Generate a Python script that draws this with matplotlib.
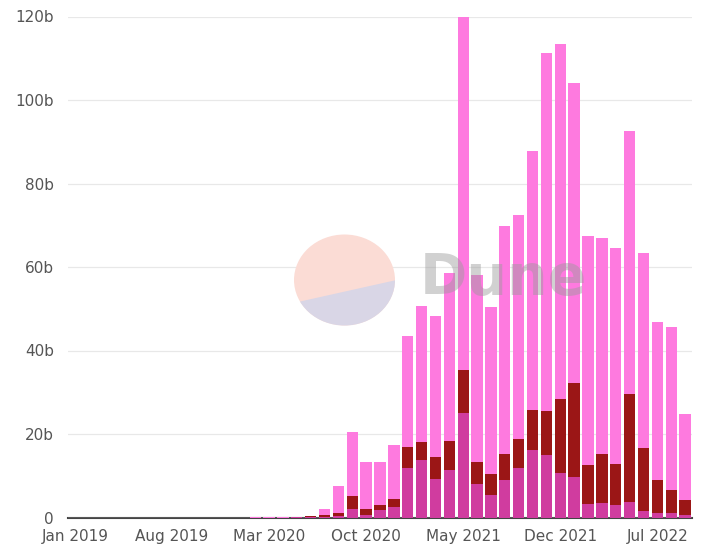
import numpy as np
import matplotlib
matplotlib.use("Agg")
import matplotlib.pyplot as plt
import pandas as pd
from matplotlib.patches import Ellipse, Polygon
from matplotlib.ticker import FuncFormatter

# mois de Jan 2019 a Sep 2022
months = pd.date_range("2019-01-01", "2022-09-01", freq="MS")

# valeurs par couche (en milliards)
bottom_vals = [0, 0, 0, 0, 0, 0, 0, 0, 0, 0, 0, 0,
               0, 0, 0, 0, 0.05, 0.1, 0.1, 0.3, 2.0, 0.6, 1.7, 2.6,
               11.9, 13.8, 9.2, 11.4, 25.0, 8.1, 5.3, 9.1, 11.9, 16.1, 14.9, 10.6,
               9.7, 3.3, 3.4, 3.1, 3.7, 1.5, 1.1, 1.0, 0.5]
middle_vals = [0, 0, 0, 0, 0, 0, 0, 0, 0, 0, 0, 0,
               0, 0, 0, 0, 0.05, 0.2, 0.5, 0.7, 3.1, 1.4, 1.4, 1.9,
               5.1, 4.3, 5.3, 6.9, 10.3, 5.2, 5.2, 6.0, 7.0, 9.6, 10.5, 17.7,
               22.4, 9.3, 11.7, 9.8, 26.0, 15.2, 7.8, 5.7, 3.6]
top_vals = [0, 0, 0, 0, 0, 0, 0, 0, 0, 0, 0, 0,
            0, 0.05, 0.05, 0.08, 0.05, 0.05, 1.4, 6.6, 15.3, 11.3, 10.2, 12.9,
            26.4, 32.5, 33.7, 40.3, 84.9, 44.7, 40.0, 54.7, 53.6, 62.1, 85.9, 85.2,
            72.0, 54.8, 51.8, 51.6, 62.8, 46.7, 38.0, 39.0, 20.8]

tick_idx = [0, 7, 14, 21, 28, 35, 42]
y_ticks = [0, 20, 40, 60, 80, 100, 120]

c_bottom = "#d03c9f"
c_middle = "#9b1616"
c_top = "#fe7adf"

W, H = 701, 545
fig = plt.figure(figsize=(W / 100, H / 100), dpi=100)
ax = fig.add_axes([68 / W, 27.5 / H, (692 - 68) / W, (517.5 - 16.5) / H])

x = np.arange(len(months))
b = np.array(bottom_vals)
m = np.array(middle_vals)
t = np.array(top_vals)
bw = 0.82
ax.bar(x, b, width=bw, color=c_bottom, zorder=2)
ax.bar(x, m, width=bw, bottom=b, color=c_middle, zorder=2)
ax.bar(x, t, width=bw, bottom=b + m, color=c_top, zorder=2)

ax.set_xlim(-0.5, len(months) - 0.5)
ax.set_ylim(0, 120)
ax.set_xticks(tick_idx)
ax.set_xticklabels([months[i].strftime("%b %Y") for i in tick_idx])
ax.set_yticks(y_ticks)
ax.yaxis.set_major_formatter(FuncFormatter(lambda v, p: f"{int(v)}b" if v else "0"))
ax.tick_params(length=0, labelsize=11, colors="#555555")
ax.tick_params(axis="x", pad=8)
ax.tick_params(axis="y", pad=10)
ax.grid(True, axis="y", color="#e8e8e8", linewidth=0.9, zorder=0)
for s in ["top", "right", "left"]:
    ax.spines[s].set_visible(False)
ax.spines["bottom"].set_color("#444444")
ax.spines["bottom"].set_linewidth(1.5)
ax.spines["bottom"].set_zorder(1)

# filigrane Dune
ov = fig.add_axes([0, 0, 1, 1], zorder=5)
ov.set_xlim(0, W)
ov.set_ylim(H, 0)
ov.axis("off")
ov.patch.set_alpha(0)
circ = Ellipse((344.5, 280), 101, 91, facecolor="#fbdcd5", edgecolor="none")
ov.add_patch(circ)
low = Polygon([(280, 306), (410, 277), (410, 340), (280, 340)],
              facecolor="#d9d6e6", edgecolor="none")
ov.add_patch(low)
low.set_clip_path(circ)
ov.text(420, 280, "Dune", fontsize=41, fontweight="bold", color="#9a9a9a",
        alpha=0.45, va="center", ha="left")

fig.savefig("out.png", dpi=100)
